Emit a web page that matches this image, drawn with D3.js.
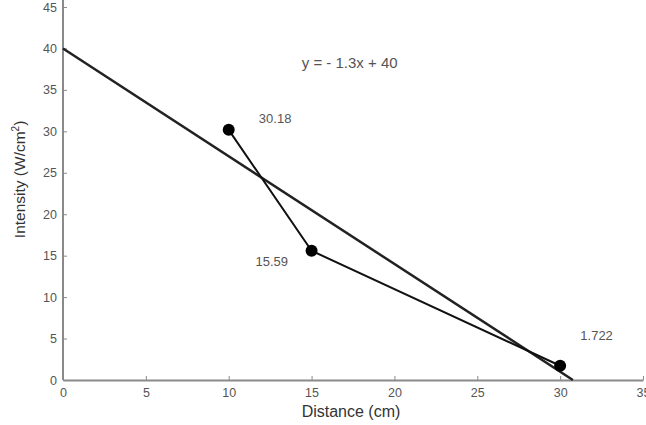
<!DOCTYPE html>
<html>
<head>
<meta charset="utf-8">
<script src="https://cdn.jsdelivr.net/npm/d3@7"></script>
<style>
  body { margin: 0; background: #fff; }
  svg { display: block; font-family: "Liberation Sans", Arial, sans-serif; }
</style>
</head>
<body>
<div id="chart"></div>
<script>
// data
const distance = [10, 15, 30];
const intensity = [30.18, 15.59, 1.722];
const pointLabels = ["30.18", "15.59", "1.722"];
// where each label sits, in data units
const labelX = [12.8, 12.6, 32.2];
const labelY = [31.0, 13.7, 4.8];
const fitSlope = -1.3;
const fitIntercept = 40;
const xTicks = [0, 5, 10, 15, 20, 25, 30, 35];
const yTicks = [0, 5, 10, 15, 20, 25, 30, 35, 40, 45];

const width = 646, height = 425;
const svg = d3.select("#chart").append("svg")
  .attr("width", width).attr("height", height);

const x = d3.scaleLinear().domain([0, 35]).range([63, 643]);
const y = d3.scaleLinear().domain([0, 45]).range([380, 7]);

const axisColor = "#8a8a8a";
const textColor = "#555";

// axes (ticks point inward)
const gx = svg.append("g")
  .attr("transform", `translate(0,${y(0)})`)
  .call(d3.axisBottom(x).tickValues(xTicks).tickSizeInner(-4).tickSizeOuter(0).tickPadding(8));
const gy = svg.append("g")
  .attr("transform", `translate(${x(0)},0)`)
  .call(d3.axisLeft(y).tickValues(yTicks).tickSizeInner(-4).tickSizeOuter(0).tickPadding(6));

[gx, gy].forEach(g => {
  g.select(".domain").attr("stroke", axisColor).attr("stroke-width", 2);
  g.selectAll(".tick line").attr("stroke", axisColor);
  g.selectAll(".tick text").attr("fill", textColor).attr("font-size", "12.5px")
    .attr("font-family", "Liberation Sans, Arial, sans-serif");
});
gy.select(".domain").attr("d", `M0,${y(0)}V0`);

// fit line y = -1.3x + 40
const xEnd = -fitIntercept / fitSlope;
svg.append("line")
  .attr("x1", x(0)).attr("y1", y(fitIntercept))
  .attr("x2", x(xEnd)).attr("y2", y(0))
  .attr("stroke", "#222").attr("stroke-width", 2.5);

// data line
const pts = distance.map((d, i) => ({ d, v: intensity[i], label: pointLabels[i], lx: labelX[i], ly: labelY[i] }));
svg.append("path")
  .datum(pts)
  .attr("fill", "none")
  .attr("stroke", "#111")
  .attr("stroke-width", 2)
  .attr("d", d3.line().x(p => x(p.d)).y(p => y(p.v)));

svg.selectAll("circle.pt")
  .data(pts)
  .enter().append("circle")
  .attr("class", "pt")
  .attr("cx", p => x(p.d)).attr("cy", p => y(p.v))
  .attr("r", 6).attr("fill", "#000");

svg.selectAll("text.lbl")
  .data(pts)
  .enter().append("text")
  .attr("class", "lbl")
  .attr("x", p => x(p.lx)).attr("y", p => y(p.ly))
  .attr("text-anchor", "middle")
  .attr("font-size", "13px")
  .attr("fill", textColor)
  .text(p => p.label);

// equation
svg.append("text")
  .attr("x", x(17.3)).attr("y", y(37.6))
  .attr("text-anchor", "middle")
  .attr("font-size", "15px")
  .attr("fill", textColor)
  .text("y = - 1.3x + 40");

// axis titles
svg.append("text")
  .attr("x", 351).attr("y", 417)
  .attr("text-anchor", "middle")
  .attr("font-size", "16px")
  .attr("fill", "#333")
  .text("Distance (cm)");

const yl = svg.append("text")
  .attr("transform", `translate(25,${y(24.2)}) rotate(-90)`)
  .attr("text-anchor", "middle")
  .attr("font-size", "15.5px")
  .attr("fill", "#333");
yl.append("tspan").text("Intensity (W/cm");
yl.append("tspan").attr("font-size", "10px").attr("dy", -6).text("2");
yl.append("tspan").attr("dy", 6).text(")");
</script>
</body>
</html>
